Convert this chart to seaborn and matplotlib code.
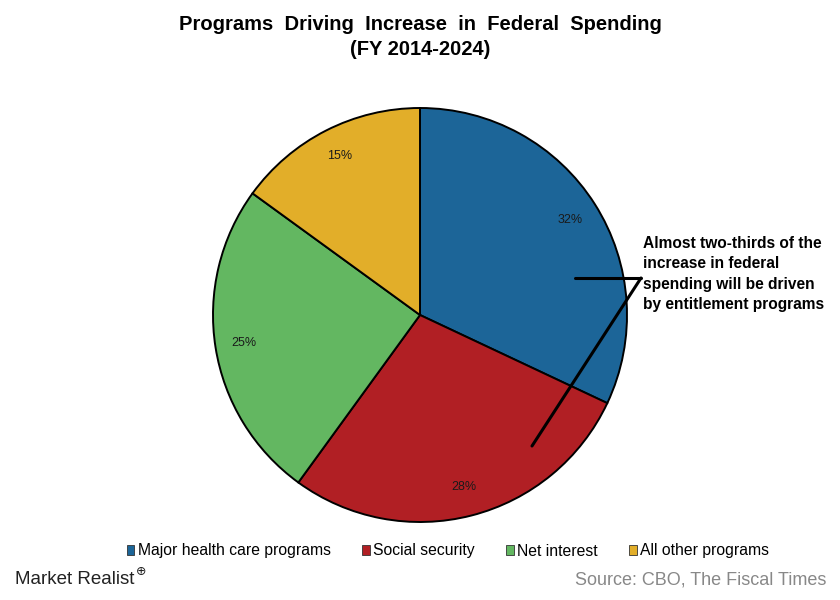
import matplotlib
matplotlib.use("Agg")
import matplotlib.pyplot as plt
import seaborn as sns
from matplotlib.patches import Patch

# data
categories = ["Major health care programs", "Social security", "Net interest", "All other programs"]
shares = [32, 28, 25, 15]
colors = ["#1c6598", "#b11f24", "#63b761", "#e2ae29"]

sns.set_theme(style="white")
plt.rcParams['font.family'] = ['Liberation Sans', 'DejaVu Sans']
plt.rcParams['text.color'] = 'black'

fig = plt.figure(figsize=(8.4, 6.0), dpi=100)
ax = fig.add_axes([213/840, 1-522/600, 414/840, 414/600])

wedges, texts, autotexts = ax.pie(
    shares, colors=colors, startangle=90, counterclock=False,
    autopct='%d%%', pctdistance=0.86,
    wedgeprops=dict(edgecolor='black', linewidth=1.4),
    textprops=dict(fontsize=9, color='#1a1a1a'))
ax.set_xlim(-1, 1)
ax.set_ylim(-1, 1)
ax.set_aspect('equal')
ax.axis('off')

fig.suptitle("Programs  Driving  Increase  in  Federal  Spending\n(FY 2014-2024)",
             y=0.975, fontsize=14.5, fontweight='bold', linespacing=1.4, color='black')

# callout line
fig.add_artist(plt.Line2D([575/840, 641/840], [1-278/600, 1-278/600], color='black', lw=2.2))
fig.add_artist(plt.Line2D([641/840, 532/840], [1-278/600, 1-446/600], color='black', lw=2.2))
fig.text(643/840, 1-274/600,
         "Almost two-thirds of the\nincrease in federal\nspending will be driven\nby entitlement programs",
         fontsize=11.2, fontweight='bold', va='center', ha='left', linespacing=1.45)

handles = [Patch(facecolor=c, edgecolor='#333333', linewidth=0.6) for c in colors]
leg = fig.legend(handles, categories, loc='center', bbox_to_anchor=(0.533, 1-551/600),
                 ncol=4, frameon=False, handlelength=0.5, handleheight=0.6,
                 handletextpad=0.2, columnspacing=2.0,
                 prop={'size': 11.3})

fig.text(15/840, 1-580/600, "Market Realist", fontsize=13.5,
         va='center', ha='left', color='#222222')
fig.text(136/840, 1-572/600, "\u2295", fontsize=9, va='center', ha='left', color='#222222')
fig.text(826/840, 1-580/600, "Source: CBO, The Fiscal Times", fontsize=13,
         va='center', ha='right', color='#888888')

fig.savefig("out.png", dpi=100)
